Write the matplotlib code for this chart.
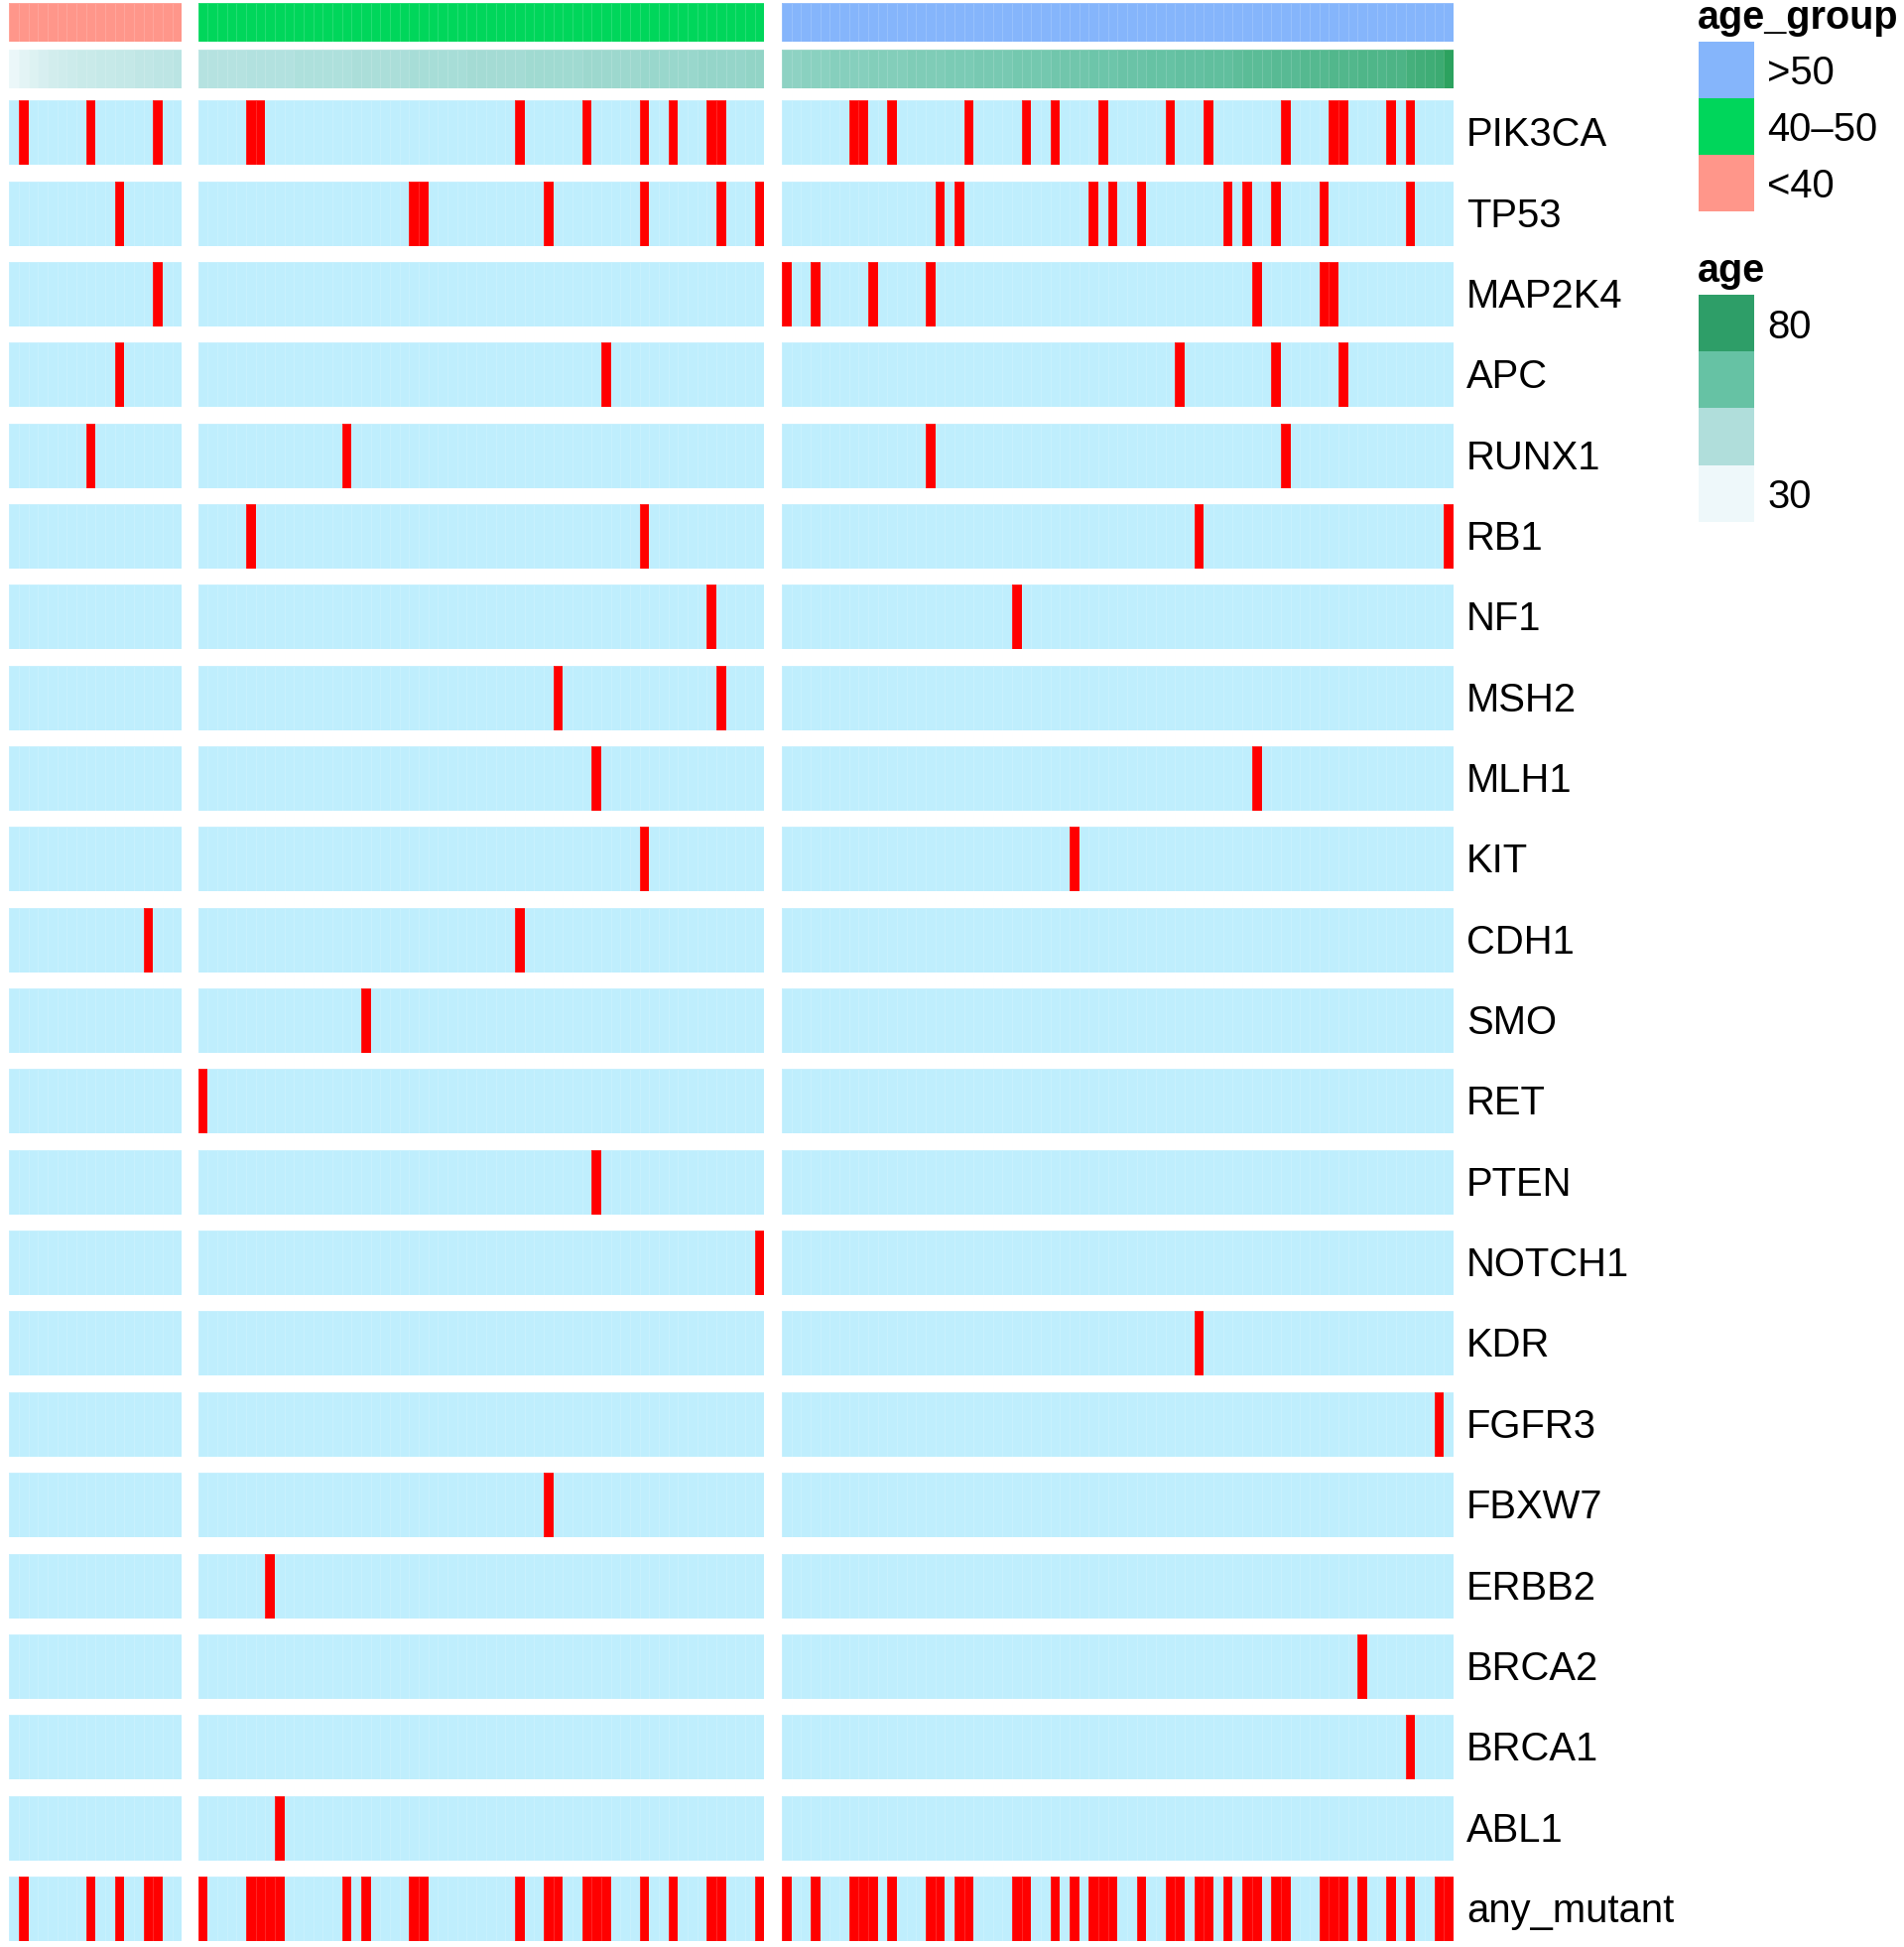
import numpy as np
import matplotlib.pyplot as plt
from matplotlib.colors import ListedColormap, LinearSegmentedColormap

plt.rcParams['font.family'] = ['Liberation Sans', 'DejaVu Sans']

genes = ['PIK3CA', 'TP53', 'MAP2K4', 'APC', 'RUNX1', 'RB1', 'NF1', 'MSH2', 'MLH1',
         'KIT', 'CDH1', 'SMO', 'RET', 'PTEN', 'NOTCH1', 'KDR', 'FGFR3', 'FBXW7',
         'ERBB2', 'BRCA2', 'BRCA1', 'ABL1']
row_labels = genes + ['any_mutant']

group_names = ['<40', '40–50', '>50']
group_colors = ['#FF968A', '#00D65B', '#85B5FB']

# ages of the samples, left to right, per age group
age_lt40 = [21, 24, 26, 28, 30, 31, 32, 33, 33, 34, 34, 35, 35, 36, 36, 37, 37, 38]
age_40to50 = [40, 40, 40, 40, 40, 41, 41, 41, 41, 41,
              42, 42, 42, 42, 42, 42, 43, 43, 43, 43, 43, 43,
              44, 44, 44, 44, 44, 44, 45, 45, 45, 45, 45, 45,
              46, 46, 46, 46, 46, 46, 47, 47, 47, 47, 47, 47,
              48, 48, 48, 48, 48, 48, 49, 49, 49, 49, 49, 50, 50]
age_gt50 = [51, 51, 52, 52, 52,
            53, 53, 53, 53, 54, 54, 54, 54, 55, 55, 55, 55, 56, 56, 56,
            57, 57, 57, 57, 58, 58, 58, 58, 59, 59, 59, 59, 60, 60, 60, 61, 61, 61,
            62, 62, 62, 63, 63, 63, 64, 64, 64, 65,
            66, 66, 66, 67, 67, 67, 68, 68, 68, 69, 69, 69, 70, 70, 70, 71, 71,
            74, 75, 76, 77, 84]

# mutated sample positions (column index inside each age group)
mut_lt40 = {'PIK3CA': [1, 8, 15], 'TP53': [11], 'MAP2K4': [15], 'APC': [11],
            'RUNX1': [8], 'CDH1': [14]}
mut_40to50 = {'PIK3CA': [5, 6, 33, 40, 46, 49, 53, 54], 'TP53': [22, 23, 36, 46, 54, 58],
              'APC': [42], 'RUNX1': [15], 'RB1': [5, 46], 'NF1': [53], 'MSH2': [37, 54],
              'MLH1': [41], 'KIT': [46], 'CDH1': [33], 'SMO': [17], 'RET': [0],
              'PTEN': [41], 'NOTCH1': [58], 'FBXW7': [36], 'ERBB2': [7], 'ABL1': [8]}
mut_gt50 = {'PIK3CA': [7, 8, 11, 19, 25, 28, 33, 40, 44, 52, 57, 58, 63, 65],
            'TP53': [16, 18, 32, 34, 37, 46, 48, 51, 56, 65],
            'MAP2K4': [0, 3, 9, 15, 49, 56, 57], 'APC': [41, 51, 58], 'RUNX1': [15, 52],
            'RB1': [43, 69], 'NF1': [24], 'MLH1': [49], 'KIT': [30], 'KDR': [43],
            'FGFR3': [68], 'BRCA2': [60], 'BRCA1': [65]}

ages = [age_lt40, age_40to50, age_gt50]
muts = [mut_lt40, mut_40to50, mut_gt50]

W, H = 1919, 1962
fig = plt.figure(figsize=(W / 100, H / 100), dpi=100)


def add_ax(x0, y0, x1, y1):
    ax = fig.add_axes([x0 / W, 1 - y1 / H, (x1 - x0) / W, (y1 - y0) / H])
    ax.set_axis_off()
    return ax


mut_cmap = ListedColormap(['#BFEEFD', '#FF0000'])
age_colors = ['#EEF8FA', '#B2E1DF', '#66C2A4', '#2CA25F']
age_cmap = LinearSegmentedColormap.from_list('age', age_colors)
edge = (1, 1, 1, 0.15)

group_x = [(9.2, 183.3), (199.7, 770.3), (788.0, 1464.9)]
row_top0, row_h, row_pitch = 101.2, 65.0, 81.35

for g in range(3):
    n = len(ages[g])
    x0, x1 = group_x[g]
    mat = np.zeros((len(row_labels), n))
    for r, gene in enumerate(genes):
        for c in muts[g].get(gene, []):
            mat[r, c] = 1
    mat[-1] = mat[:-1].max(axis=0)

    ax = add_ax(x0, 2.7, x1, 41.5)
    ax.pcolormesh(np.zeros((1, n)), cmap=ListedColormap([group_colors[g]]),
                  edgecolors=edge, linewidth=0.5)
    ax = add_ax(x0, 50.0, x1, 89.3)
    ax.pcolormesh(np.array([ages[g]]), cmap=age_cmap, vmin=20, vmax=83,
                  edgecolors=edge, linewidth=0.5)

    for r in range(len(row_labels)):
        top = row_top0 + r * row_pitch
        ax = add_ax(x0, top, x1, top + row_h)
        ax.pcolormesh(mat[r:r + 1], cmap=mut_cmap, vmin=0, vmax=1,
                      edgecolors=edge, linewidth=0.5)

for r, name in enumerate(row_labels):
    yc = row_top0 + r * row_pitch + row_h / 2 + 2.5
    fig.text(1478 / W, 1 - yc / H, name, fontsize=28.8, ha='left', va='center')

# legends
fig.text(1711 / W, 1 - 29 / H, 'age_group', fontsize=28.5, fontweight='bold',
         ha='left', va='baseline')
ax = add_ax(1712, 42, 1768, 213)
ax.imshow(np.arange(3)[::-1].reshape(-1, 1), cmap=ListedColormap(group_colors),
          aspect='auto')
for i, name in enumerate(group_names[::-1]):
    fig.text(1781 / W, 1 - (74 + 57 * i) / H, name, fontsize=28.8, ha='left', va='center')

fig.text(1711 / W, 1 - 284 / H, 'age', fontsize=28.5, fontweight='bold',
         ha='left', va='baseline')
ax = add_ax(1712, 297, 1768, 526)
ax.imshow(np.arange(4)[::-1].reshape(-1, 1), cmap=ListedColormap(['#EEF8FA', '#B0DEDB', '#66C2A4', '#2E9E68']),
          aspect='auto')
fig.text(1781 / W, 1 - 330 / H, '80', fontsize=28.8, ha='left', va='center')
fig.text(1781 / W, 1 - 501 / H, '30', fontsize=28.8, ha='left', va='center')

fig.savefig('out.png', dpi=100)
